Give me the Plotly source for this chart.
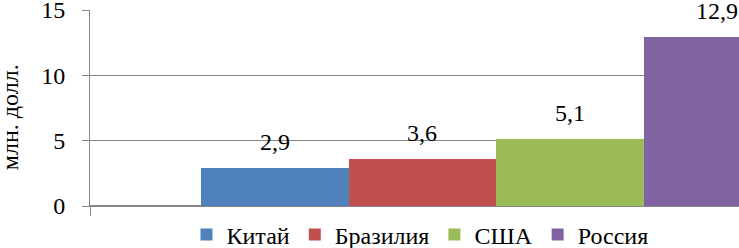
import plotly.graph_objects as go

countries = ["Китай", "Бразилия", "США", "Россия"]
values = [2.9, 3.6, 5.1, 12.9]
colors = ["#4F81BD", "#C0504D", "#9BBB59", "#8064A2"]
y_ticks = [0, 5, 10, 15]
y_title = "млн. долл."

FONT = "Liberation Serif"
GRID = "#868686"

W, H = 739, 248
L, R, T, B = 90, 0, 9.5, 42
plot_w = W - L - R
plot_h = H - T - B

# bars of width 1 at positions 0..3; first bar left edge at pixel 201
px_per_unit = 147.5
x0 = -0.5 - (201 - L) / px_per_unit
x1 = x0 + plot_w / px_per_unit

fig = go.Figure()
for i, (c, v, col) in enumerate(zip(countries, values, colors)):
    fig.add_trace(go.Bar(x=[i], y=[v], name=c, marker=dict(color=col, line=dict(width=0)),
                         width=1, hoverinfo="skip"))
    fig.add_annotation(x=i, y=v, text=f"{v:.1f}".replace(".", ","), showarrow=False,
                       yanchor="bottom", yshift=11, font=dict(family=FONT, size=24, color="black"))

fig.add_annotation(xref="paper", yref="paper", x=(10 - L) / plot_w, y=(206 - 117) / plot_h,
                   text=y_title, textangle=-90, showarrow=False, xanchor="center", yanchor="middle",
                   font=dict(family=FONT, size=24, color="black"))

fig.update_layout(
    width=W, height=H,
    margin=dict(l=L, r=R, t=T, b=B, pad=0, autoexpand=False),
    paper_bgcolor="white", plot_bgcolor="white",
    barmode="overlay", bargap=0,
    showlegend=True,
    font=dict(family=FONT, size=24, color="black"),
    legend=dict(orientation="h", x=(420 - L) / plot_w, xanchor="center",
                y=(206 - 235) / plot_h, yanchor="middle",
                font=dict(family=FONT, size=24, color="black"), itemwidth=30),
    xaxis=dict(range=[x0, x1], showgrid=False, zeroline=False, showline=True, linecolor=GRID,
               tickvals=[x0], ticktext=[""], ticks="outside", ticklen=9, tickcolor=GRID),
    yaxis=dict(range=[0, 15], tickvals=y_ticks, showgrid=True, gridcolor=GRID, gridwidth=1,
               zeroline=True, zerolinecolor=GRID, showline=True, linecolor=GRID,
               ticks="outside", ticklen=7, tickcolor=GRID, ticklabelstandoff=12,
               ticklabeloverflow="allow",
               tickfont=dict(family=FONT, size=24, color="black")),
)

fig.write_html("out.html", config={"displayModeBar": False},
               post_script="document.body.style.margin='0';document.body.style.overflow='hidden';")
